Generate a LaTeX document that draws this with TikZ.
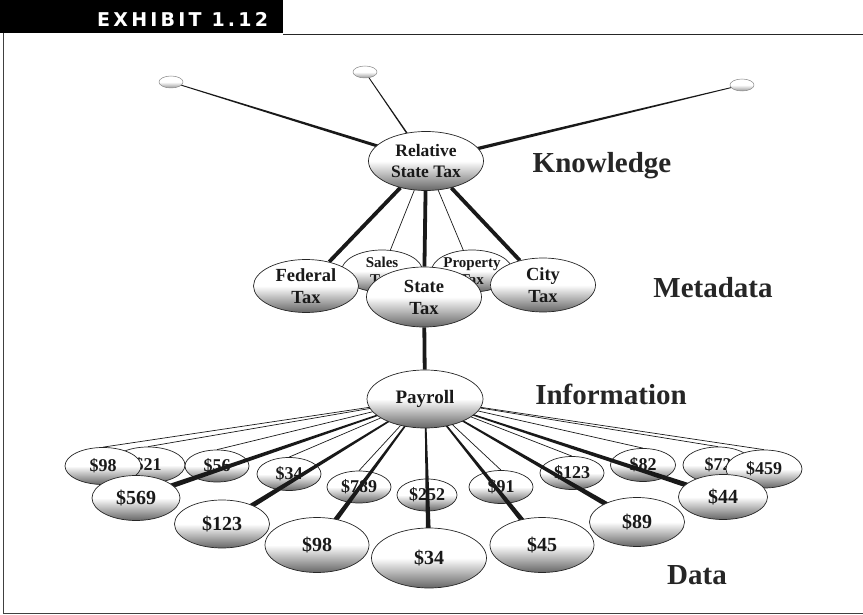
\documentclass[tikz,border=0pt]{standalone}
\usepackage{fontspec}
\setmainfont{Liberation Serif}
\newfontfamily\exhibitfont{DejaVu Sans}[LetterSpace=17]
\usetikzlibrary{shapes.geometric, calc}
\pgfdeclarelayer{back}
\pgfdeclarelayer{edges}
\pgfsetlayers{back,edges,main}

\tikzstyle{bubble} = [ellipse, draw=black!85, line width=0.7pt, top color=white, bottom color=black!60, middle color=white,
inner sep=0pt, align=center, text=black!90, font=\bfseries\fontsize{18.5}{22}\selectfont]
\tikzstyle{back} = [bubble, font=\bfseries\fontsize{18}{22}\selectfont]
\tikzstyle{front} = [bubble, font=\bfseries\fontsize{20}{24}\selectfont]
\tikzstyle{dot} = [ellipse, draw=black!45, line width=0.5pt, top color=white, bottom color=black!40, middle color=white,
inner sep=0pt, minimum width=24pt, minimum height=12pt]
\tikzstyle{thinline} = [line width=0.7pt, black!90]
\tikzstyle{thickline} = [line width=3.8pt, black!90]
\tikzstyle{level} = [anchor=base, text=black!85, font=\bfseries\fontsize{29}{29}\selectfont]
\tikzset{dims/.style 2 args={minimum width=#1pt, minimum height=#2pt}}

% wedge from #1 (half width #3) to #2 (half width #4)
\newcommand{\taperline}[4]{\fill[black!90] ($(#1)!#3!90:(#2)$) -- ($(#2)!#4!-90:(#1)$) -- ($(#2)!#4!90:(#1)$) -- ($(#1)!#3!-90:(#2)$) -- cycle;}

\begin{document}
\begin{tikzpicture}[x=1pt, y=-1pt]
    \useasboundingbox (0,0) rectangle (863,615);

    % Frame
    \fill[black] (0,0) rectangle (283,33);
    \node[anchor=base west, inner sep=0pt, text=white, font=\exhibitfont\bfseries\fontsize{19}{20}\selectfont] (exhibit) at (97,27) {EXHIBIT 1.12};
    \draw[line width=1.2pt, black!85] (283,34.5) -- (863,34.5);
    \draw[line width=1pt, black!75] (3,33) -- (3,613) -- (863,613);

    % Knowledge
    \node[dot] (dotA) at (171,82) {};
    \node[dot] (dotB) at (365,72) {};
    \node[dot] (dotC) at (742,85) {};
    \node[bubble, dims={115}{59}, font=\bfseries\fontsize{17.5}{21}\selectfont] (rst) at (426,161) {Relative\\State Tax};

    % Metadata
    \node[bubble, dims={81}{42}, font=\bfseries\fontsize{15}{17.5}\selectfont] (sales) at (382,271) {Sales\\Tax};
    \node[bubble, dims={81}{42}, font=\bfseries\fontsize{15}{17.5}\selectfont] (prop) at (472,271) {Property\\Tax};
    \node[bubble, dims={105}{53}] (fed) at (306,286) {Federal\\Tax};
    \node[bubble, dims={105}{54}] (city) at (543,285) {City\\Tax};
    \node[bubble, dims={115}{60}] (state) at (424,297) {State\\Tax};

    % Information
    \node[bubble, dims={116}{58}, font=\bfseries\fontsize{19}{22}\selectfont] (payroll) at (425,399) {Payroll};

    % Data, back row
    \begin{pgfonlayer}{back}
        \node[back, dims={74}{36}] (b21) at (148,465) {\$21};
        \node[back, dims={76}{37}] (b98) at (103,466) {\$98};
        \node[back, dims={64}{32}] (b56) at (217,466) {\$56};
        \node[back, dims={64}{33}] (b34) at (289,474) {\$34};
        \node[back, dims={64}{32}] (b789) at (359,487) {\$789};
        \node[back, dims={60}{32}] (b252) at (427,495) {\$252};
        \node[back, dims={64}{33}] (b91) at (501,487) {\$91};
        \node[back, dims={64}{33}] (b123) at (572,473) {\$123};
        \node[back, dims={65}{33}] (b82) at (643,465) {\$82};
        \node[back, dims={70}{36}] (b72) at (718,465) {\$72};
        \node[back, dims={76}{38}] (b459) at (764,469) {\$459};
    \end{pgfonlayer}

    % Data, front row
    \node[front, dims={88}{45}] (f569) at (136,498) {\$569};
    \node[front, dims={95}{48}] (f123) at (222,524) {\$123};
    \node[front, dims={104}{55}] (f98) at (317,545) {\$98};
    \node[front, dims={115}{60}] (f34) at (429,558) {\$34};
    \node[front, dims={104}{55}] (f45) at (542,545) {\$45};
    \node[front, dims={95}{49}] (f89) at (637,522) {\$89};
    \node[front, dims={89}{45}] (f44) at (723,497) {\$44};

    % Levels
    \node[level] (knowledge) at (602,173) {Knowledge};
    \node[level] (metadata) at (713,297) {Metadata};
    \node[level] (information) at (611,404) {Information};
    \node[level] (data) at (697,584) {Data};

    % Edges
    \begin{pgfonlayer}{edges}
        \taperline{dotA}{rst}{0.4pt}{1.8pt}
        \taperline{dotB}{rst}{0.4pt}{0.9pt}
        \taperline{dotC}{rst}{0.4pt}{1.9pt}
        \draw[thickline] (rst) -- (fed);
        \draw[thickline] (rst) -- (state);
        \draw[thickline] (rst) -- (city);
        \draw[thinline] (rst) -- (sales);
        \draw[thinline] (rst) -- (prop);
        \draw[thickline] (state) -- (payroll);
        \draw[thinline] (payroll) -- (b98.north);
        \draw[thinline] (payroll) -- (b21.north);
        \draw[thinline] (payroll) -- (b56.north);
        \draw[thinline] (payroll) -- (b34.north);
        \draw[thinline] (payroll) -- (b789.north);
        \draw[thinline] (payroll) -- (b252.north);
        \draw[thinline] (payroll) -- (b91.north);
        \draw[thinline] (payroll) -- (b123.north);
        \draw[thinline] (payroll) -- (b82.north);
        \draw[thinline] (payroll) -- (b72.north);
        \draw[thinline] (payroll) -- (b459.north);
        \taperline{payroll}{f569}{0.4pt}{2.8pt}
        \taperline{payroll}{f123}{0.4pt}{2.8pt}
        \taperline{payroll}{f98}{0.4pt}{2.8pt}
        \taperline{payroll}{f34}{0.4pt}{2.8pt}
        \taperline{payroll}{f45}{0.4pt}{2.8pt}
        \taperline{payroll}{f89}{0.4pt}{2.8pt}
        \taperline{payroll}{f44}{0.4pt}{2.8pt}
    \end{pgfonlayer}

\end{tikzpicture}
\end{document}
